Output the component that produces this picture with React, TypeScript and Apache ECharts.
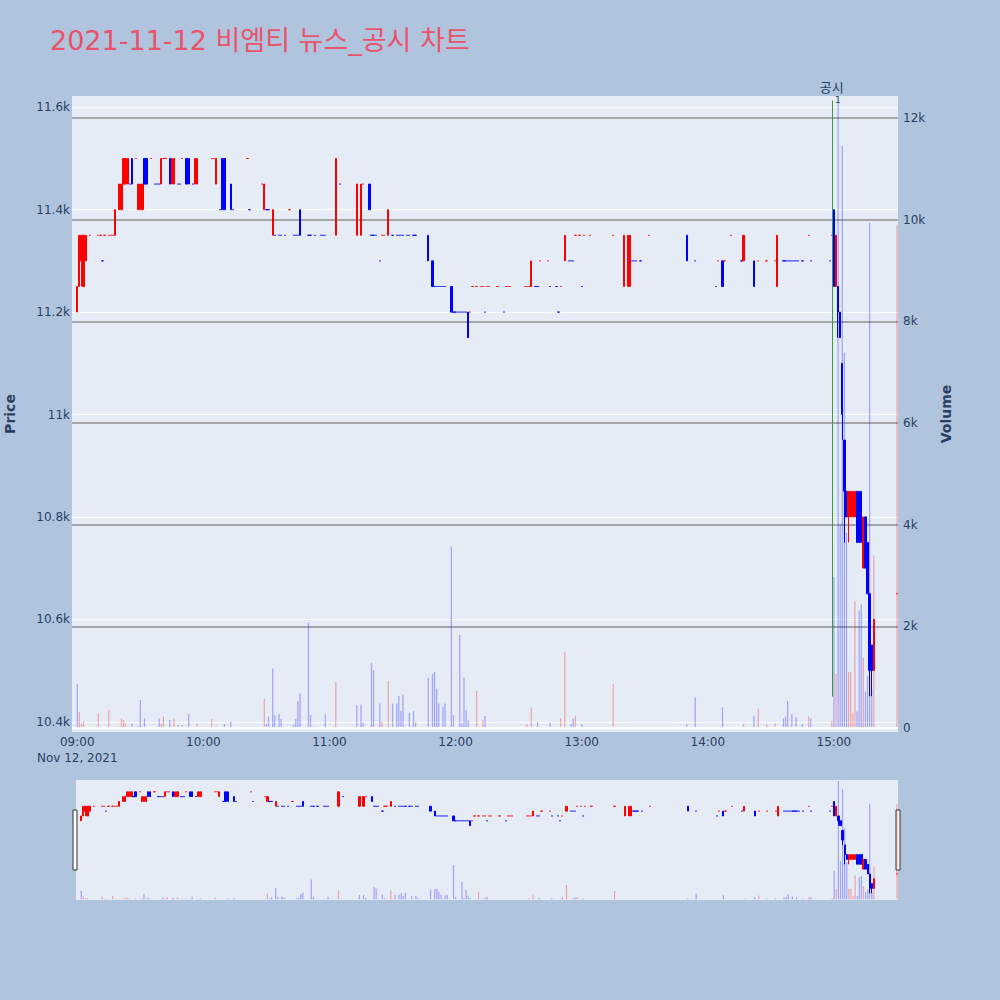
import React, { useEffect, useRef } from "react";
import * as echarts from "echarts";

// [time, open, close, low, high, volume]
const bars09: [string, number, number, number, number, number][] = [
  ["09:00", 11200, 11250, 11200, 11250, 860],
  ["09:01", 11250, 11350, 11250, 11350, 320],
  ["09:02", 11300, 11350, 11250, 11350, 80],
  ["09:03", 11250, 11350, 11250, 11350, 130],
  ["09:04", 11300, 11350, 11300, 11350, 20],
  ["09:06", 11350, 11350, 11350, 11350, 10],
  ["09:10", 11350, 11350, 11350, 11350, 280],
  ["09:11", 11350, 11350, 11350, 11350, 20],
  ["09:12", 11300, 11300, 11300, 11300, 15],
  ["09:13", 11350, 11350, 11350, 11350, 10],
  ["09:15", 11350, 11350, 11350, 11350, 355],
  ["09:16", 11350, 11350, 11350, 11350, 10],
  ["09:17", 11350, 11350, 11350, 11350, 10],
  ["09:18", 11350, 11400, 11350, 11400, 25],
  ["09:20", 11400, 11450, 11400, 11450, 30],
  ["09:21", 11400, 11450, 11400, 11450, 190],
  ["09:22", 11450, 11500, 11450, 11500, 157],
  ["09:23", 11450, 11500, 11450, 11500, 90],
  ["09:24", 11450, 11500, 11450, 11500, 15],
  ["09:25", 11450, 11450, 11450, 11450, 10],
  ["09:26", 11500, 11450, 11450, 11500, 90],
  ["09:28", 11500, 11500, 11500, 11500, 10],
  ["09:29", 11400, 11450, 11400, 11450, 40],
  ["09:30", 11400, 11450, 11400, 11450, 550],
  ["09:31", 11400, 11450, 11400, 11450, 20],
  ["09:32", 11500, 11450, 11450, 11500, 190],
  ["09:33", 11500, 11450, 11450, 11500, 20],
  ["09:35", 11500, 11500, 11500, 11500, 10],
  ["09:37", 11450, 11450, 11450, 11450, 10],
  ["09:38", 11450, 11450, 11450, 11450, 25],
  ["09:39", 11450, 11450, 11450, 11450, 185],
  ["09:40", 11450, 11500, 11450, 11500, 80],
  ["09:41", 11500, 11500, 11500, 11500, 225],
  ["09:42", 11500, 11500, 11500, 11500, 10],
  ["09:44", 11500, 11450, 11450, 11500, 155],
  ["09:45", 11450, 11500, 11450, 11500, 10],
  ["09:46", 11450, 11500, 11450, 11500, 185],
  ["09:48", 11450, 11450, 11450, 11450, 60],
  ["09:49", 11450, 11450, 11450, 11450, 10],
  ["09:50", 11500, 11500, 11500, 11500, 60],
  ["09:52", 11500, 11450, 11450, 11500, 20],
  ["09:53", 11500, 11450, 11450, 11500, 275],
  ["09:55", 11450, 11450, 11450, 11450, 15],
  ["09:56", 11450, 11500, 11450, 11500, 20],
  ["09:57", 11450, 11500, 11450, 11500, 90],
];

const bars10: [string, number, number, number, number, number][] = [
  ["10:04", 11500, 11500, 11500, 11500, 177],
  ["10:05", 11500, 11500, 11500, 11500, 10],
  ["10:06", 11450, 11500, 11450, 11500, 50],
  ["10:08", 11400, 11400, 11400, 11400, 10],
  ["10:09", 11500, 11400, 11400, 11500, 15],
  ["10:10", 11500, 11400, 11400, 11500, 80],
  ["10:13", 11450, 11400, 11400, 11450, 125],
  ["10:14", 11400, 11400, 11400, 11400, 15],
  ["10:21", 11500, 11500, 11500, 11500, 5],
  ["10:22", 11400, 11400, 11400, 11400, 5],
  ["10:28", 11450, 11450, 11450, 11450, 10],
  ["10:29", 11400, 11450, 11400, 11450, 570],
  ["10:30", 11400, 11400, 11400, 11400, 80],
  ["10:31", 11400, 11400, 11400, 11400, 225],
  ["10:33", 11350, 11400, 11350, 11400, 1170],
  ["10:34", 11350, 11350, 11350, 11350, 255],
  ["10:36", 11350, 11350, 11350, 11350, 275],
  ["10:37", 11350, 11350, 11350, 11350, 177],
  ["10:39", 11350, 11350, 11350, 11350, 10],
  ["10:41", 11400, 11400, 11400, 11400, 10],
  ["10:43", 11350, 11350, 11350, 11350, 65],
  ["10:44", 11350, 11350, 11350, 11350, 177],
  ["10:45", 11350, 11350, 11350, 11350, 525],
  ["10:46", 11400, 11350, 11350, 11400, 680],
  ["10:50", 11350, 11350, 11350, 11350, 2070],
  ["10:51", 11350, 11350, 11350, 11350, 255],
  ["10:53", 11350, 11350, 11350, 11350, 40],
  ["10:56", 11350, 11350, 11350, 11350, 20],
  ["10:57", 11350, 11350, 11350, 11350, 10],
  ["10:58", 11350, 11350, 11350, 11350, 270],
];

const bars11: [string, number, number, number, number, number][] = [
  ["11:03", 11350, 11500, 11350, 11500, 905],
  ["11:05", 11450, 11450, 11450, 11450, 10],
  ["11:13", 11350, 11450, 11350, 11450, 450],
  ["11:15", 11350, 11450, 11350, 11450, 460],
  ["11:16", 11450, 11450, 11450, 11450, 105],
  ["11:19", 11450, 11400, 11400, 11450, 10],
  ["11:20", 11350, 11350, 11350, 11350, 1280],
  ["11:21", 11350, 11350, 11350, 11350, 1140],
  ["11:22", 11350, 11350, 11350, 11350, 15],
  ["11:24", 11300, 11300, 11300, 11300, 480],
  ["11:25", 11350, 11350, 11350, 11350, 125],
  ["11:26", 11350, 11350, 11350, 11350, 10],
  ["11:28", 11350, 11400, 11350, 11400, 925],
  ["11:30", 11350, 11350, 11350, 11350, 480],
  ["11:32", 11350, 11350, 11350, 11350, 480],
  ["11:33", 11350, 11350, 11350, 11350, 630],
  ["11:34", 11350, 11350, 11350, 11350, 335],
  ["11:35", 11350, 11350, 11350, 11350, 660],
  ["11:37", 11350, 11350, 11350, 11350, 10],
  ["11:38", 11350, 11350, 11350, 11350, 300],
  ["11:40", 11350, 11350, 11350, 11350, 330],
  ["11:41", 11350, 11350, 11350, 11350, 110],
  ["11:47", 11350, 11300, 11300, 11350, 985],
  ["11:49", 11300, 11250, 11250, 11300, 1060],
  ["11:50", 11250, 11250, 11250, 11250, 1100],
  ["11:51", 11250, 11250, 11250, 11250, 770],
  ["11:52", 11250, 11250, 11250, 11250, 480],
  ["11:53", 11250, 11250, 11250, 11250, 15],
  ["11:54", 11250, 11250, 11250, 11250, 420],
  ["11:55", 11250, 11250, 11250, 11250, 480],
  ["11:58", 11250, 11200, 11200, 11250, 3570],
  ["11:59", 11200, 11200, 11200, 11200, 250],
];

const bars12: [string, number, number, number, number, number][] = [
  ["12:00", 11200, 11200, 11200, 11200, 10],
  ["12:01", 11200, 11200, 11200, 11200, 15],
  ["12:02", 11200, 11200, 11200, 11200, 1830],
  ["12:03", 11200, 11200, 11200, 11200, 92],
  ["12:04", 11200, 11200, 11200, 11200, 1000],
  ["12:05", 11200, 11200, 11200, 11200, 355],
  ["12:06", 11200, 11150, 11150, 11200, 145],
  ["12:07", 11200, 11200, 11200, 11200, 10],
  ["12:08", 11250, 11250, 11250, 11250, 5],
  ["12:10", 11250, 11250, 11250, 11250, 730],
  ["12:12", 11250, 11250, 11250, 11250, 10],
  ["12:13", 11250, 11250, 11250, 11250, 160],
  ["12:14", 11200, 11200, 11200, 11200, 235],
  ["12:15", 11250, 11250, 11250, 11250, 5],
  ["12:16", 11250, 11250, 11250, 11250, 5],
  ["12:20", 11250, 11250, 11250, 11250, 5],
  ["12:23", 11200, 11200, 11200, 11200, 10],
  ["12:24", 11250, 11250, 11250, 11250, 5],
  ["12:25", 11250, 11250, 11250, 11250, 10],
  ["12:26", 11250, 11250, 11250, 11250, 5],
  ["12:33", 11250, 11250, 11250, 11250, 10],
  ["12:34", 11250, 11250, 11250, 11250, 80],
  ["12:35", 11250, 11250, 11250, 11250, 10],
  ["12:36", 11250, 11300, 11250, 11300, 405],
  ["12:38", 11250, 11250, 11250, 11250, 10],
  ["12:39", 11250, 11250, 11250, 11250, 120],
  ["12:40", 11300, 11300, 11300, 11300, 5],
  ["12:44", 11300, 11300, 11300, 11300, 5],
  ["12:45", 11250, 11250, 11250, 11250, 105],
  ["12:48", 11250, 11250, 11250, 11250, 10],
  ["12:49", 11200, 11200, 11200, 11200, 10],
  ["12:50", 11250, 11250, 11250, 11250, 195],
  ["12:52", 11300, 11350, 11300, 11350, 1500],
  ["12:54", 11300, 11300, 11300, 11300, 5],
  ["12:55", 11300, 11300, 11300, 11300, 80],
  ["12:56", 11300, 11300, 11300, 11300, 185],
  ["12:57", 11350, 11350, 11350, 11350, 240],
  ["12:59", 11350, 11350, 11350, 11350, 5],
];

const bars13: [string, number, number, number, number, number][] = [
  ["13:00", 11250, 11250, 11250, 11250, 80],
  ["13:01", 11350, 11350, 11350, 11350, 5],
  ["13:04", 11350, 11350, 11350, 11350, 5],
  ["13:15", 11350, 11350, 11350, 11350, 865],
  ["13:20", 11250, 11350, 11250, 11350, 10],
  ["13:22", 11250, 11350, 11250, 11350, 10],
  ["13:23", 11250, 11350, 11250, 11350, 10],
  ["13:24", 11300, 11300, 11300, 11300, 5],
  ["13:25", 11300, 11300, 11300, 11300, 5],
  ["13:26", 11300, 11300, 11300, 11300, 5],
  ["13:28", 11300, 11300, 11300, 11300, 5],
  ["13:32", 11350, 11350, 11350, 11350, 5],
  ["13:50", 11350, 11300, 11300, 11350, 80],
  ["13:54", 11300, 11300, 11300, 11300, 600],
];

const bars14: [string, number, number, number, number, number][] = [
  ["14:04", 11250, 11250, 11250, 11250, 5],
  ["14:05", 11300, 11300, 11300, 11300, 5],
  ["14:07", 11300, 11250, 11250, 11300, 405],
  ["14:08", 11300, 11300, 11300, 11300, 5],
  ["14:11", 11350, 11350, 11350, 11350, 5],
  ["14:16", 11300, 11300, 11300, 11300, 5],
  ["14:17", 11300, 11350, 11300, 11350, 80],
  ["14:22", 11300, 11250, 11250, 11300, 240],
  ["14:24", 11300, 11300, 11300, 11300, 380],
  ["14:28", 11300, 11300, 11300, 11300, 80],
  ["14:32", 11300, 11300, 11300, 11300, 92],
  ["14:33", 11250, 11350, 11250, 11350, 10],
  ["14:36", 11300, 11300, 11300, 11300, 185],
  ["14:37", 11300, 11300, 11300, 11300, 225],
  ["14:38", 11300, 11300, 11300, 11300, 525],
  ["14:39", 11300, 11300, 11300, 11300, 5],
  ["14:40", 11300, 11300, 11300, 11300, 275],
  ["14:41", 11300, 11300, 11300, 11300, 5],
  ["14:42", 11300, 11300, 11300, 11300, 210],
  ["14:43", 11300, 11300, 11300, 11300, 5],
  ["14:45", 11300, 11300, 11300, 11300, 80],
  ["14:48", 11350, 11350, 11350, 11350, 225],
  ["14:49", 11300, 11300, 11300, 11300, 185],
  ["14:58", 11300, 11300, 11300, 11300, 5],
  ["14:59", 11350, 11350, 11350, 11350, 140],
];

const bars15: [string, number, number, number, number, number][] = [
  ["15:00", 11400, 11250, 11250, 11400, 2970],
  ["15:01", 11250, 11350, 11250, 11350, 1060],
  ["15:02", 11250, 11200, 11150, 11250, 12300],
  ["15:03", 11200, 11150, 11150, 11200, 4000],
  ["15:04", 11100, 11000, 10950, 11100, 11450],
  ["15:05", 10950, 10850, 10750, 10950, 7380],
  ["15:06", 10850, 10800, 10800, 10850, 3840],
  ["15:07", 10800, 10850, 10750, 10850, 1100],
  ["15:08", 10800, 10850, 10800, 10850, 1100],
  ["15:09", 10800, 10850, 10800, 10850, 300],
  ["15:10", 10800, 10850, 10800, 10850, 2505],
  ["15:11", 10850, 10750, 10750, 10850, 325],
  ["15:12", 10850, 10750, 10750, 10850, 2310],
  ["15:13", 10850, 10750, 10750, 10850, 2430],
  ["15:14", 10700, 10800, 10700, 10800, 1380],
  ["15:15", 10800, 10700, 10700, 10800, 715],
  ["15:16", 10750, 10650, 10650, 10750, 1020],
  ["15:17", 10650, 10500, 10450, 10650, 9945],
  ["15:18", 10550, 10500, 10450, 10550, 755],
  ["15:19", 10500, 10600, 10500, 10600, 3400],
  ["15:30", 10650, 10650, 10650, 10650, 9900],
];

const hourTicks = ["09:00", "10:00", "11:00", "12:00", "13:00", "14:00", "15:00"];
const dateLabel = "Nov 12, 2021";
const newsTime = "14:59";
const newsLineRange = [10449, 11613];
const priceRange = [10380, 11622];
const volumeRange = [-79, 12433];

const TITLE = "2021-11-12 비엠티 뉴스_공시 차트";
const FONT = '"DejaVu Sans", Verdana, "Noto Sans CJK KR", sans-serif';
const UP = "#ff0000";
const DOWN = "#0000ff";
const VOL_UP = "rgba(255,0,0,0.3)";
const VOL_DOWN = "rgba(0,0,255,0.3)";
const AXIS_TEXT = "#2a3f5f";

function buildCategories(): string[] {
  const out: string[] = [];
  for (let t = 8 * 60 + 58; t <= 15 * 60 + 30; t++) {
    const h = Math.floor(t / 60);
    const m = t % 60;
    out.push(String(h).padStart(2, "0") + ":" + String(m).padStart(2, "0"));
  }
  return out;
}

function buildSeriesData(categories: string[]) {
  const all = [...bars09, ...bars10, ...bars11, ...bars12, ...bars13, ...bars14, ...bars15];
  const byTime = new Map(all.map((b) => [b[0], b]));
  let inc = true;
  let volUp = false;
  let prevClose: number | null = null;
  const candles: any[] = [];
  const volumes: any[] = [];
  for (const cat of categories) {
    const b = byTime.get(cat);
    if (!b) {
      candles.push("-");
      volumes.push("-");
      continue;
    }
    const [, o, c, l, h, v] = b;
    if (o === c) {
      if (prevClose !== null && c !== prevClose) inc = c > prevClose;
    } else inc = c > o;
    if (prevClose !== null) {
      if (c > prevClose) volUp = true;
      else if (c < prevClose) volUp = false;
    }
    prevClose = c;
    const col = inc ? UP : DOWN;
    candles.push({
      value: [o, c, l, h],
      itemStyle: { color: col, color0: col, borderColor: col, borderColor0: col },
    });
    volumes.push({ value: v, itemStyle: { color: volUp ? VOL_UP : VOL_DOWN } });
  }
  return { candles, volumes };
}

const kFormat = (v: number) => (v === 0 ? "0" : v / 1000 + "k");

export default function App() {
  const ref = useRef<HTMLDivElement>(null);
  useEffect(() => {
    if (!ref.current) return;
    const chart = echarts.init(ref.current, null, { renderer: "svg" });
    const categories = buildCategories();
    const { candles, volumes } = buildSeriesData(categories);

    const option: any = {
      animation: false,
      backgroundColor: "#b0c4de",
      textStyle: { fontFamily: FONT },
      grid: [
        {
          left: 72, top: 96, width: 826, height: 636, show: true, backgroundColor: "#e5ecf6", borderWidth: 0,
          outerBoundsMode: "none", containLabel: false,
        },
        {
          left: 76, top: 780, width: 822, height: 120, show: true, backgroundColor: "#e5ecf6", borderWidth: 0,
          outerBoundsMode: "none", containLabel: false,
        },
      ],
      xAxis: [
        {
          type: "category",
          gridIndex: 0,
          data: categories,
          boundaryGap: true,
          axisLine: { show: false },
          axisTick: { show: false },
          splitLine: { show: false },
          axisLabel: {
            interval: (_i: number, v: string) => hourTicks.includes(v),
            formatter: (v: string) => (v === hourTicks[0] ? v + "\n" + dateLabel : v),
            color: AXIS_TEXT,
            fontSize: 12,
            lineHeight: 16,
            margin: 2,
            fontFamily: FONT,
          },
        },
        {
          type: "category",
          gridIndex: 1,
          data: categories,
          boundaryGap: true,
          show: false,
        },
      ],
      yAxis: [
        {
          type: "value",
          gridIndex: 0,
          position: "left",
          min: priceRange[0],
          max: priceRange[1],
          splitNumber: 6,
          name: "Price",
          nameLocation: "middle",
          nameGap: 55,
          nameTextStyle: { color: AXIS_TEXT, fontSize: 14, fontWeight: "bold", fontFamily: FONT },
          axisLine: { show: false },
          axisTick: { show: false },
          axisLabel: {
            color: AXIS_TEXT,
            fontSize: 12,
            margin: 2,
            showMinLabel: false,
            showMaxLabel: false,
            fontFamily: FONT,
            formatter: (v: number) => (v % 200 === 0 ? kFormat(v) : ""),
          },
          splitLine: { show: true, showMinLine: false, showMaxLine: false, lineStyle: { color: "#ffffff", width: 1.2 } },
        },
        {
          type: "value",
          gridIndex: 0,
          position: "right",
          min: volumeRange[0],
          max: volumeRange[1],
          splitNumber: 6,
          name: "Volume",
          nameLocation: "middle",
          nameGap: 41,
          nameTextStyle: { color: AXIS_TEXT, fontSize: 14, fontWeight: "bold", fontFamily: FONT },
          axisLine: { show: false },
          axisTick: { show: false },
          axisLabel: {
            color: AXIS_TEXT,
            fontSize: 12,
            margin: 5,
            showMinLabel: false,
            showMaxLabel: false,
            fontFamily: FONT,
            formatter: (v: number) => (v % 2000 === 0 ? kFormat(v) : ""),
          },
          splitLine: { show: true, showMinLine: false, showMaxLine: false, lineStyle: { color: "#8f8f8f", width: 1.5 } },
        },
        { type: "value", gridIndex: 1, min: priceRange[0], max: priceRange[1], show: false, splitLine: { show: false } },
        { type: "value", gridIndex: 1, min: volumeRange[0], max: volumeRange[1], show: false, splitLine: { show: false } },
      ],
      series: [
        {
          type: "candlestick",
          xAxisIndex: 0,
          yAxisIndex: 0,
          data: candles,
          barWidth: "85%",
          itemStyle: { borderWidth: 1 },
          z: 2,
          markLine: {
            silent: true,
            symbol: ["none", "none"],
            lineStyle: { color: "#3c9c3c", width: 1, type: "solid" },
            label: { show: true, position: "end", formatter: "공시", color: AXIS_TEXT, fontSize: 13, distance: 7, fontFamily: FONT },
            data: [[{ coord: [newsTime, newsLineRange[0]] }, { coord: [newsTime, newsLineRange[1]] }]],
          },
        },
        {
          type: "bar",
          xAxisIndex: 0,
          yAxisIndex: 1,
          data: volumes,
          barWidth: "60%",
          z: 3,
          markLine: {
            silent: true,
            symbol: ["none", "none"],
            label: { show: false },
            lineStyle: { color: "#ffffff", width: 2, type: "solid" },
            data: [{ yAxis: 0 }],
          },
        },
        {
          type: "candlestick",
          xAxisIndex: 1,
          yAxisIndex: 2,
          data: candles,
          barWidth: "85%",
          itemStyle: { borderWidth: 1 },
        },
        {
          type: "bar",
          xAxisIndex: 1,
          yAxisIndex: 3,
          data: volumes,
          barWidth: "60%",
        },
      ],
      graphic: [
        {
          type: "text",
          left: 50,
          top: 27,
          style: { text: TITLE, fontSize: 27, fill: "#e8536b", fontFamily: FONT },
        },
        {
          type: "text",
          left: 835,
          top: 95,
          style: { text: "1", fontSize: 9, fill: AXIS_TEXT, fontFamily: FONT },
        },
        {
          type: "rect",
          shape: { x: 73, y: 810, width: 4, height: 60 },
          style: { fill: "#ffffff", stroke: "#333333", lineWidth: 1 },
        },
        {
          type: "rect",
          shape: { x: 896, y: 810, width: 4, height: 60 },
          style: { fill: "#ffffff", stroke: "#333333", lineWidth: 1 },
        },
      ],
    };
    chart.setOption(option);
    return () => chart.dispose();
  }, []);
  return (
    <div
      ref={ref}
      style={{ position: "absolute", left: 0, top: 0, width: 1000, height: 1000 }}
    />
  );
}
